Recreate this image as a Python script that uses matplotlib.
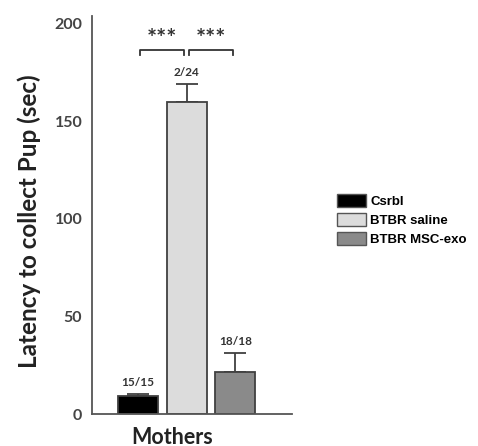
import matplotlib
matplotlib.use("Agg")
import matplotlib.pyplot as plt
from matplotlib.patches import Patch

groups = ["Csrbl", "BTBR saline", "BTBR MSC-exo"]
means = [9, 160, 21.5]
errors = [1.5, 9, 10]
counts = ["15/15", "2/24", "18/18"]
colors = ["#000000", "#dcdcdc", "#8a8a8a"]
# significance brackets: (left bar, right bar, label)
sig_pairs = [(0, 1, "***"), (1, 2, "***")]
yticks = [0, 50, 100, 150, 200]

plt.rcParams["font.family"] = ["Lato", "DejaVu Sans"]

fig = plt.figure(figsize=(4.78, 4.46), dpi=100)
ax = fig.add_axes([0.1925, 0.0717, 0.4185, 0.8923])

x = [0, 1, 2]
ax.bar(x, means, width=0.82, color=colors, edgecolor="#404040", linewidth=1.3, zorder=2)
ax.errorbar(x, means, yerr=[[0, 0, 0], errors], fmt="none", ecolor="#404040",
            elinewidth=1.3, capsize=8, capthick=1.3, zorder=1)

for xi, m, e, c in zip(x, means, errors, counts):
    ax.text(xi, m + e + 3, c, ha="center", va="bottom", fontsize=8.5,
            fontweight="bold", color="#333333")

for a, b, lab in sig_pairs:
    x0 = a + (0.05 if a == 1 else 0.04)
    x1 = b - (0.05 if b == 1 else 0.04)
    ax.plot([x0, x0, x1, x1], [184, 186.8, 186.8, 184], color="#333333", lw=1.3,
            clip_on=False)
    ax.text((x0 + x1) / 2, 186, lab, ha="center", va="bottom", fontsize=17,
            fontweight="bold", color="#333333")

ax.set_xlim(-0.95, 3.17)
ax.set_ylim(0, 204)
ax.set_yticks(yticks)
ax.set_xticks([])
ax.tick_params(axis="y", length=0, pad=7, labelsize=11.5, labelcolor="#444444")
for lbl in ax.get_yticklabels():
    lbl.set_fontweight("bold")
for s in ["top", "right"]:
    ax.spines[s].set_visible(False)
for s in ["left", "bottom"]:
    ax.spines[s].set_color("#555555")
    ax.spines[s].set_linewidth(1.3)

ax.set_ylabel("Latency to collect Pup (sec)", fontsize=17.5, fontweight="bold",
              color="#222222")
ax.yaxis.set_label_coords(-0.255, 0.485)
fig.text(172 / 478, 1 - 437 / 446, "Mothers", ha="center", va="center",
         fontsize=15.5, fontweight="bold", color="#222222")

handles = [Patch(facecolor=c, edgecolor="#555555", linewidth=1) for c in colors]
fig.legend(handles, groups, loc="upper left", bbox_to_anchor=(328 / 478, 1 - 185 / 446),
           frameon=False, handlelength=2.2, handleheight=1.15,
           labelspacing=0.35, handletextpad=0.3, borderpad=0.2,
           prop={"family": "Liberation Sans", "weight": "bold", "size": 9.5})

fig.savefig("out.png", dpi=100)
